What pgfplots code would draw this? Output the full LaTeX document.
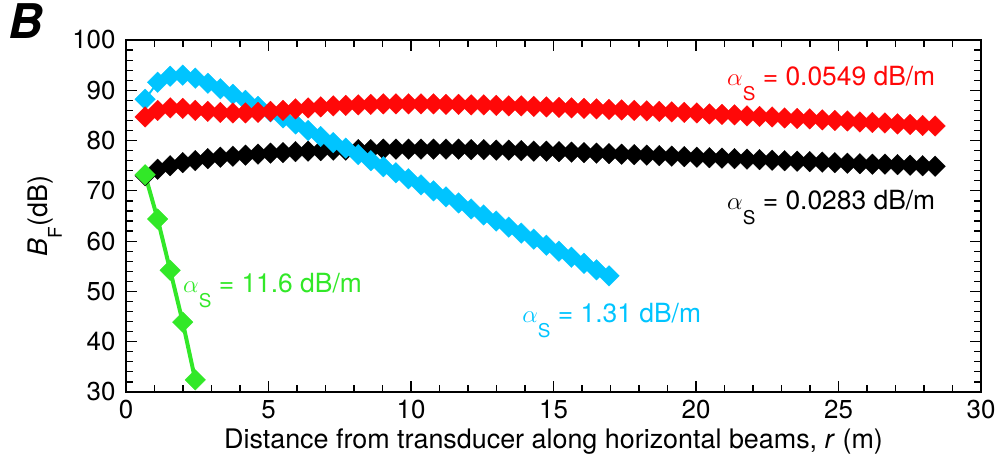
\documentclass[border=0pt]{standalone}
\usepackage{pgfplots}
\pgfplotsset{compat=1.18}
\usepackage{fontspec}
\setmainfont{TeX Gyre Heros}
\definecolor{cred}{RGB}{255,8,8}
\definecolor{cblue}{RGB}{0,196,255}
\definecolor{cgreen}{RGB}{50,232,40}
\newcommand{\aS}{{\fontsize{33}{30}\selectfont$\alpha$}\raisebox{-15bp}{\fontsize{19}{19}\selectfont S}}
\begin{document}
\begin{tikzpicture}
\path[use as bounding box] (0,0) rectangle (996bp,466bp);
\node[anchor=base west,font=\fontsize{48}{48}\selectfont\bfseries\itshape,inner sep=0pt] at (8bp,427bp) {B};
\begin{axis}[
  at={(126bp,74bp)}, anchor=south west,
  scale only axis, width=855bp, height=352bp,
  xmin=0, xmax=30, ymin=30, ymax=100,
  xtick={0,5,...,30}, ytick={30,40,...,100},
  minor x tick num=4, minor y tick num=4,
  tick align=inside, tick pos=both,
  major tick length=11bp, minor tick length=7bp,
  every tick/.style={line width=1.2pt, black},
  axis line style={line width=1.5pt},
  tick label style={font=\fontsize{26}{28}\selectfont},
  xticklabel style={yshift=-5bp},
  yticklabel style={xshift=-7bp},
  /pgf/number format/assume math mode=true,
  xlabel={Distance from transducer along horizontal beams, \textit{r} (m)},
  ylabel={\textit{B}\raisebox{-14bp}{\fontsize{19}{19}\selectfont F}(dB)},
  label style={font=\fontsize{27}{30}\selectfont},
  xlabel style={at={(axis description cs:0.5,0)}, anchor=base, yshift=-56bp},
  ylabel style={at={(axis description cs:0,0.5)}, anchor=center, rotate=0, yshift=81bp},
  clip=false,
]
% black 0.0283
\addplot[black, line width=2pt, mark=square*, mark size=7.3pt, mark options={rotate=45, fill=black, draw=black, line width=0.3pt}] coordinates {
(0.67,73.0)(1.11,74.3)(1.55,75.0)(1.99,75.6)(2.43,76.0)(2.87,76.4)(3.31,76.7)(3.75,76.9)(4.19,77.1)(4.63,77.3)
(5.07,77.5)(5.51,77.6)(5.95,77.8)(6.39,77.9)(6.83,78.0)(7.27,78.1)(7.71,78.1)(8.15,78.2)(8.59,78.2)(9.03,78.3)
(9.47,78.3)(9.91,78.3)(10.35,78.3)(10.79,78.3)(11.23,78.3)(11.67,78.3)(12.11,78.2)(12.55,78.2)(12.99,78.1)(13.43,78.1)
(13.87,78.0)(14.31,77.9)(14.75,77.9)(15.19,77.8)(15.63,77.7)(16.07,77.6)(16.51,77.5)(16.95,77.4)(17.39,77.3)(17.83,77.2)
(18.27,77.1)(18.71,77.0)(19.15,76.9)(19.59,76.8)(20.03,76.7)(20.47,76.6)(20.91,76.5)(21.35,76.4)(21.79,76.3)(22.23,76.2)
(22.67,76.1)(23.11,76.0)(23.55,75.9)(23.99,75.8)(24.43,75.7)(24.87,75.6)(25.31,75.5)(25.75,75.4)(26.19,75.3)(26.63,75.3)
(27.07,75.2)(27.51,75.1)(27.95,75.0)(28.39,74.9)
};
% blue 1.31
\addplot[cblue, line width=2pt, mark=square*, mark size=7.3pt, mark options={rotate=45, fill=cblue, draw=cblue, line width=0.3pt}] coordinates {
(0.67,88.2)(1.11,91.6)(1.55,92.8)(1.99,93.0)(2.43,92.4)(2.87,91.4)(3.31,90.3)(3.75,89.2)(4.19,88.0)(4.63,86.8)
(5.07,85.7)(5.51,84.5)(5.95,83.3)(6.39,82.0)(6.83,80.8)(7.27,79.6)(7.71,78.5)(8.15,77.2)(8.59,76.0)(9.03,74.8)
(9.47,73.6)(9.91,72.4)(10.35,71.2)(10.79,70.0)(11.23,68.8)(11.67,67.6)(12.11,66.4)(12.55,65.2)(12.99,64.0)(13.43,62.8)
(13.87,61.6)(14.31,60.4)(14.75,59.2)(15.19,58.0)(15.63,56.8)(16.07,55.6)(16.51,54.3)(16.95,53.1)
};
% red 0.0549
\addplot[cred, line width=2pt, mark=square*, mark size=7.3pt, mark options={rotate=45, fill=cred, draw=cred, line width=0.3pt}] coordinates {
(0.67,84.7)(1.11,86.0)(1.55,86.5)(1.99,86.4)(2.43,86.0)(2.87,85.8)(3.31,85.6)(3.75,85.5)(4.19,85.5)(4.63,85.6)
(5.07,85.8)(5.51,86.0)(5.95,86.3)(6.39,86.5)(6.83,86.7)(7.27,86.9)(7.71,87.0)(8.15,87.1)(8.59,87.2)(9.03,87.3)
(9.47,87.3)(9.91,87.3)(10.35,87.3)(10.79,87.3)(11.23,87.2)(11.67,87.2)(12.11,87.1)(12.55,87.1)(12.99,87.0)(13.43,86.9)
(13.87,86.9)(14.31,86.8)(14.75,86.7)(15.19,86.6)(15.63,86.5)(16.07,86.4)(16.51,86.3)(16.95,86.2)(17.39,86.1)(17.83,86.0)
(18.27,85.9)(18.71,85.8)(19.15,85.7)(19.59,85.6)(20.03,85.5)(20.47,85.3)(20.91,85.2)(21.35,85.1)(21.79,84.9)(22.23,84.8)
(22.67,84.7)(23.11,84.5)(23.55,84.4)(23.99,84.3)(24.43,84.1)(24.87,84.0)(25.31,83.9)(25.75,83.7)(26.19,83.6)(26.63,83.5)
(27.07,83.3)(27.51,83.2)(27.95,83.0)(28.39,82.9)
};
% green 11.6
\addplot[cgreen, line width=4pt, mark=square*, mark size=7.3pt, mark options={rotate=45, fill=cgreen, draw=cgreen, line width=0.3pt}] coordinates {
(0.67,73.2)(1.11,64.4)(1.55,54.2)(1.99,43.9)(2.43,32.4)
};
\node[anchor=base east, text=cred, font=\fontsize{26.5}{28}\selectfont, inner sep=0pt] at (axis cs:28.4,91.0) {\aS\ = 0.0549 dB/m};
\node[anchor=base east, text=black, font=\fontsize{26.5}{28}\selectfont, inner sep=0pt] at (axis cs:28.4,66.2) {\aS\ = 0.0283 dB/m};
\node[anchor=base west, text=cgreen, font=\fontsize{26.5}{28}\selectfont, inner sep=0pt] at (axis cs:2.0,49.7) {\aS\ = 11.6 dB/m};
\node[anchor=base west, text=cblue, font=\fontsize{26.5}{28}\selectfont, inner sep=0pt] at (axis cs:13.9,43.9) {\aS\ = 1.31 dB/m};
\end{axis}
\end{tikzpicture}
\end{document}
